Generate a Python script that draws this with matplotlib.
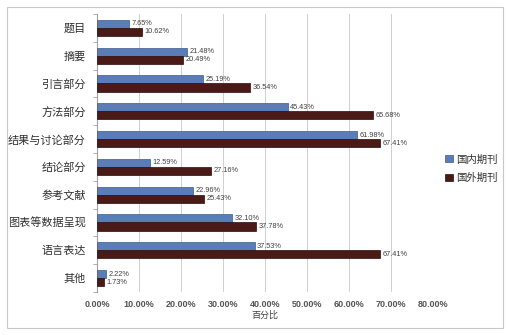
import numpy as np
import matplotlib
matplotlib.use("Agg")
import matplotlib.pyplot as plt
from matplotlib.patches import Rectangle

plt.rcParams['font.family'] = ['Noto Sans CJK SC', 'DejaVu Sans']

categories = ["题目", "摘要", "引言部分", "方法部分", "结果与讨论部分",
              "结论部分", "参考文献", "图表等数据呈现", "语言表达", "其他"]
domestic = [7.65, 21.48, 25.19, 45.43, 61.98, 12.59, 22.96, 32.10, 37.53, 2.22]
foreign = [10.62, 20.49, 36.54, 65.68, 67.41, 27.16, 25.43, 37.78, 67.41, 1.73]
series_names = ["国内期刊", "国外期刊"]
xticks = [0, 10, 20, 30, 40, 50, 60, 70, 80]

blue = "#5A7DB8"
red = "#4A1A16"

fig = plt.figure(figsize=(5.07, 3.35), dpi=100)
fig.patches.append(Rectangle((7 / 507, 7 / 335), 496 / 507, 321 / 335,
                             transform=fig.transFigure, fill=False,
                             edgecolor="#c8c8c8", linewidth=0.8))
ax = fig.add_axes([97 / 507, 1 - 292 / 335, 336 / 507, 278 / 335])

y = np.arange(len(categories))
h = 0.29
ax.barh(y - h / 2, domestic, height=h, color=blue, edgecolor="#3d5a8a",
        linewidth=0.5, label=series_names[0], zorder=3)
ax.barh(y + h / 2, foreign, height=h, color=red, edgecolor="#2a0c08",
        linewidth=0.5, label=series_names[1], zorder=3)

for i in range(len(categories)):
    ax.text(domestic[i] + 0.6, y[i] - h / 2, "%.2f%%" % domestic[i],
            va="center", ha="left", fontsize=5.3, color="#404040",
            family="Liberation Sans")
    ax.text(foreign[i] + 0.6, y[i] + h / 2, "%.2f%%" % foreign[i],
            va="center", ha="left", fontsize=5.3, color="#404040",
            family="Liberation Sans")

ax.set_ylim(len(categories) - 0.5, -0.5)
ax.set_xlim(0, 80)
ax.set_yticks(y)
ax.set_yticklabels(categories, fontsize=8, color="#303030")
ax.set_yticks(np.arange(-0.5, len(categories), 1), minor=True)
ax.tick_params(axis="y", which="major", length=0, pad=8)
ax.tick_params(axis="y", which="minor", length=3, color="#a0a0a0")

ax.set_xticks(xticks)
ax.set_xticklabels(["%.2f%%" % v for v in xticks], fontsize=6.5,
                   color="#555555", family="Liberation Sans", fontweight="bold")
ax.tick_params(axis="x", length=0, pad=6)
ax.grid(axis="x", color="#d0d0d0", linewidth=0.7, zorder=0)

for s in ["top", "right", "bottom"]:
    ax.spines[s].set_visible(False)
ax.spines["left"].set_color("#a0a0a0")
ax.spines["left"].set_linewidth(0.8)

ax.set_xlabel("百分比", fontsize=6.5, color="#404040", labelpad=1)

leg = fig.legend(loc="upper left", bbox_to_anchor=(436 / 507, 1 - 145 / 335),
                 frameon=False, fontsize=7.5, handlelength=0.7, handleheight=0.7,
                 handletextpad=0.3, labelspacing=0.8)
for t in leg.get_texts():
    t.set_color("#303030")

fig.savefig("out.png", dpi=100)
